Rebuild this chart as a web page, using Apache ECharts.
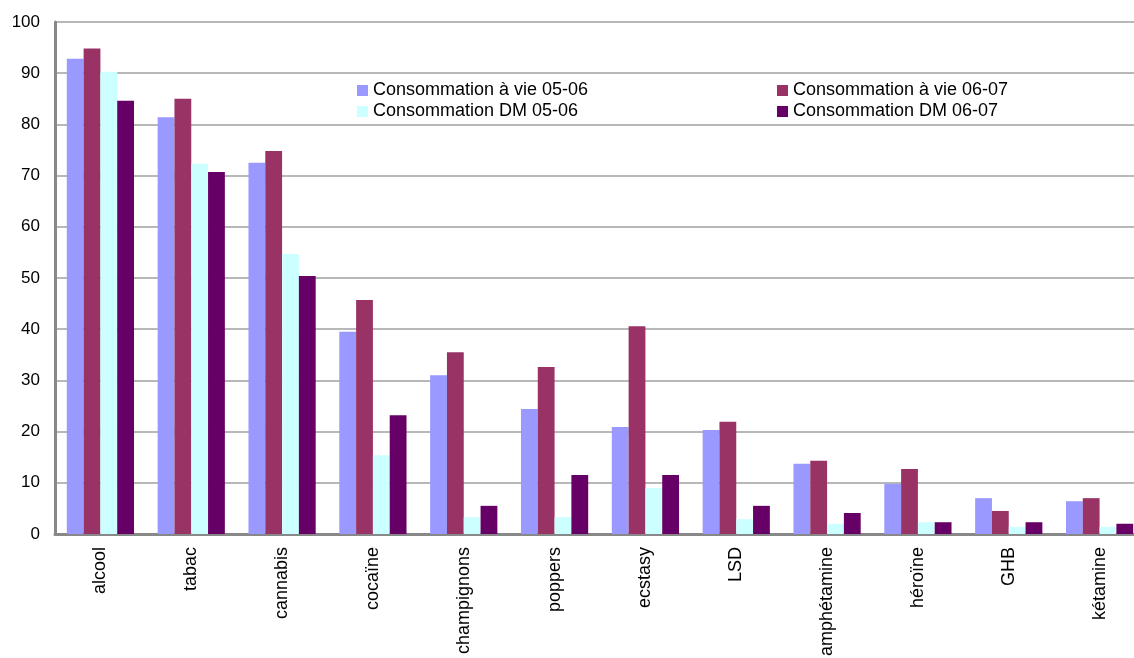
<!DOCTYPE html>
<html>
<head>
<meta charset="utf-8">
<script src="https://cdn.jsdelivr.net/npm/echarts@6/dist/echarts.min.js"></script>
<style>
  html, body { margin: 0; padding: 0; background: #fff; }
  #chart { width: 1134px; height: 658px; }
</style>
</head>
<body>
<div id="chart"></div>
<script>
// Substances (x axis)
const categories = ['alcool', 'tabac', 'cannabis', 'cocaïne', 'champignons', 'poppers',
  'ecstasy', 'LSD', 'amphétamine', 'héroïne', 'GHB', 'kétamine'];

// Percentages per series
const vie0506 = [92.8, 81.4, 72.5, 39.5, 31.0, 24.4, 20.9, 20.3, 13.7, 9.8, 7.0, 6.4];
const vie0607 = [94.8, 85.0, 74.8, 45.7, 35.5, 32.6, 40.6, 21.9, 14.3, 12.7, 4.5, 7.0];
const dm0506  = [90.3, 72.3, 54.7, 15.4, 3.3, 3.3, 9.0, 2.9, 2.0, 2.3, 1.4, 1.4];
const dm0607  = [84.6, 70.7, 50.4, 23.2, 5.5, 11.5, 11.5, 5.5, 4.1, 2.3, 2.3, 2.0];

const yTicks = [0, 10, 20, 30, 40, 50, 60, 70, 80, 90, 100];

const seriesDefs = [
  { name: 'Consommation à vie 05-06', data: vie0506, color: '#9999FF' },
  { name: 'Consommation à vie 06-07', data: vie0607, color: '#993366' },
  { name: 'Consommation DM 05-06', data: dm0506, color: '#CCFFFF' },
  { name: 'Consommation DM 06-07', data: dm0607, color: '#660066' }
];

const font = 'Liberation Sans, Arial, sans-serif';
const chart = echarts.init(document.getElementById('chart'), null, { renderer: 'canvas' });

const legendCommon = {
  orient: 'vertical',
  icon: 'rect',
  itemWidth: 11,
  itemHeight: 11,
  itemGap: 0,
  textStyle: { fontFamily: font, fontSize: 18, color: '#000', lineHeight: 21 },
  padding: 0,
  selectedMode: false
};

chart.setOption({
  animation: false,
  backgroundColor: '#fff',
  textStyle: { fontFamily: font },
  legend: [
    Object.assign({}, legendCommon, { left: 357, top: 80, data: [seriesDefs[0].name, seriesDefs[2].name] }),
    Object.assign({}, legendCommon, { left: 777, top: 80, data: [seriesDefs[1].name, seriesDefs[3].name] })
  ],
  // the plot runs slightly past the right edge of the canvas
  grid: { left: 55, top: 22, bottom: 124, right: -11, containLabel: false, outerBoundsMode: 'none' },
  xAxis: {
    type: 'category',
    data: categories,
    axisLine: { show: true, lineStyle: { color: '#888', width: 3 } },
    axisTick: { show: false },
    axisLabel: { rotate: 90, fontSize: 18, color: '#000', fontFamily: font, margin: 13, interval: 0 }
  },
  yAxis: {
    type: 'value',
    min: yTicks[0],
    max: yTicks[yTicks.length - 1],
    interval: 10,
    axisLine: { show: true, lineStyle: { color: '#888', width: 3 } },
    axisTick: { show: false },
    axisLabel: { fontSize: 17, color: '#000', fontFamily: font, margin: 15 },
    splitLine: { show: true, lineStyle: { color: '#a0a0a0', width: 1.5 } }
  },
  series: seriesDefs.map(s => ({
    name: s.name,
    type: 'bar',
    data: s.data,
    itemStyle: { color: s.color },
    barGap: '0%',
    barCategoryGap: '26%'
  }))
});
</script>
</body>
</html>
